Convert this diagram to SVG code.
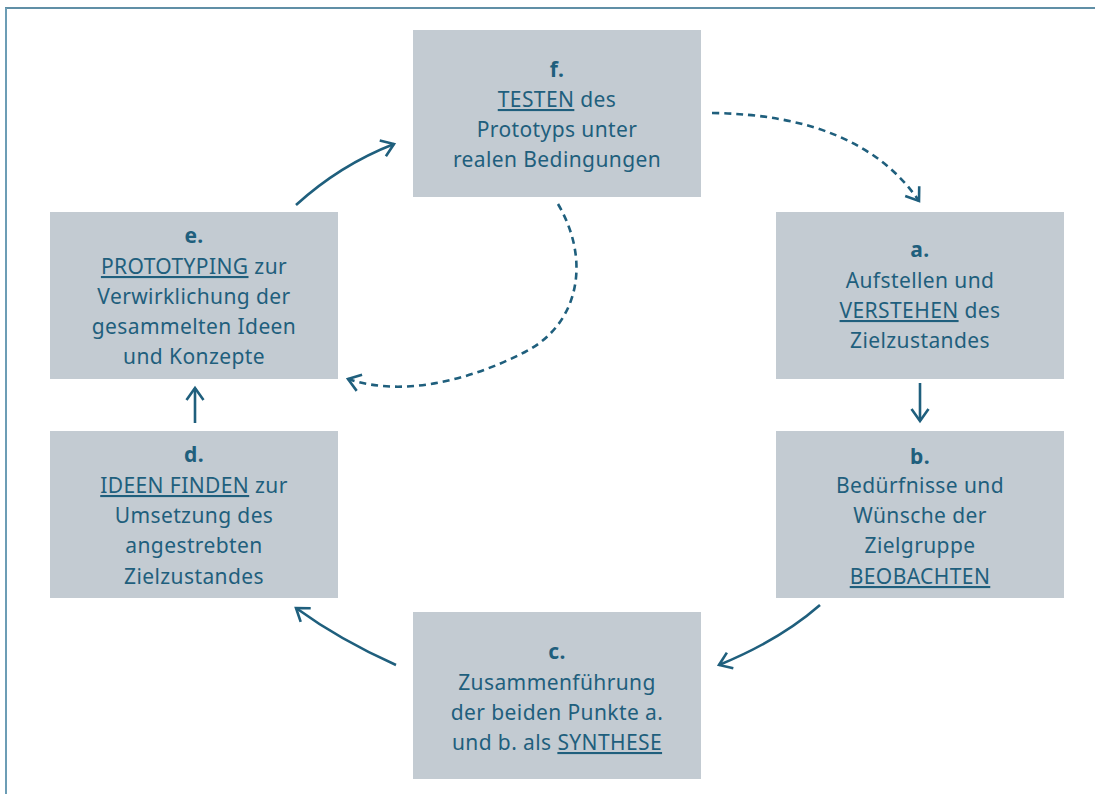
<svg xmlns="http://www.w3.org/2000/svg" width="1095" height="794" viewBox="0 0 1095 794">
  <defs>
    <style>
      .box { fill: #c3cbd2; }
      .t { font-family: "Noto Sans", "DejaVu Sans", sans-serif; font-size: 21px; letter-spacing: 0.4px; fill: #1f5f7d; text-anchor: middle; }
      .b { font-weight: bold; }
      .u { text-decoration: underline; }
      .c { fill: none; stroke: #1f5f7d; stroke-width: 2.6; stroke-linecap: butt; }
      .d { stroke-dasharray: 7 5; }
    </style>
    <marker id="ah" markerUnits="userSpaceOnUse" markerWidth="20" markerHeight="20" refX="13" refY="8.5" orient="auto" overflow="visible">
      <path d="M1,0 L13,8.5 L1,17" fill="none" stroke="#1f5f7d" stroke-width="2.6" stroke-dasharray="none"/>
    </marker>
  </defs>
  <rect width="1095" height="794" fill="#ffffff"/>
  <g id="frame">
    <line x1="5" y1="8" x2="1095" y2="8" stroke="#2b6a89" stroke-width="1.6"/>
    <line x1="6" y1="8" x2="6" y2="794" stroke="#6c9db5" stroke-width="2"/>
  </g>
  <g id="node-f">
    <rect class="box" x="413" y="30" width="288" height="167"/>
    <text class="t"><tspan class="b" x="557" y="77">f.</tspan><tspan x="557" y="107"><tspan class="u">TESTEN</tspan> des</tspan><tspan x="557" y="137">Prototyps unter</tspan><tspan x="557" y="167">realen Bedingungen</tspan></text>
  </g>
  <g id="node-a">
    <rect class="box" x="776" y="212" width="288" height="167"/>
    <text class="t"><tspan class="b" x="920" y="257">a.</tspan><tspan x="920" y="288">Aufstellen und</tspan><tspan x="920" y="318"><tspan class="u">VERSTEHEN</tspan> des</tspan><tspan x="920" y="348">Zielzustandes</tspan></text>
  </g>
  <g id="node-b">
    <rect class="box" x="776" y="431" width="288" height="167"/>
    <text class="t"><tspan class="b" x="920" y="464">b.</tspan><tspan x="920" y="493">Bedürfnisse und</tspan><tspan x="920" y="523">Wünsche der</tspan><tspan x="920" y="553">Zielgruppe</tspan><tspan class="u" x="920" y="584">BEOBACHTEN</tspan></text>
  </g>
  <g id="node-c">
    <rect class="box" x="413" y="612" width="288" height="167"/>
    <text class="t"><tspan class="b" x="557" y="659">c.</tspan><tspan x="557" y="690">Zusammenführung</tspan><tspan x="557" y="720">der beiden Punkte a.</tspan><tspan x="557" y="750">und b. als <tspan class="u">SYNTHESE</tspan></tspan></text>
  </g>
  <g id="node-d">
    <rect class="box" x="50" y="431" width="288" height="167"/>
    <text class="t"><tspan class="b" x="194" y="462">d.</tspan><tspan x="194" y="493"><tspan class="u">IDEEN FINDEN</tspan> zur</tspan><tspan x="194" y="523">Umsetzung des</tspan><tspan x="194" y="553">angestrebten</tspan><tspan x="194" y="584">Zielzustandes</tspan></text>
  </g>
  <g id="node-e">
    <rect class="box" x="50" y="212" width="288" height="167"/>
    <text class="t"><tspan class="b" x="194" y="243">e.</tspan><tspan x="194" y="274"><tspan class="u">PROTOTYPING</tspan> zur</tspan><tspan x="194" y="304">Verwirklichung der</tspan><tspan x="194" y="334">gesammelten Ideen</tspan><tspan x="194" y="364">und Konzepte</tspan></text>
  </g>
  <g id="connectors">
    <path class="c d" d="M712,113 Q860,115 919,201" marker-end="url(#ah)"/>
    <path class="c" d="M920,383 L920,421" marker-end="url(#ah)"/>
    <path class="c" d="M820,605 Q780,640 719,665" marker-end="url(#ah)"/>
    <path class="c" d="M396,665 Q340,640 296,608" marker-end="url(#ah)"/>
    <path class="c" d="M195,423 L195,388" marker-end="url(#ah)"/>
    <path class="c" d="M296,205 Q340,165 394,144" marker-end="url(#ah)"/>
    <path class="c d" d="M558,204 C592,262 578,325 525,352 S405,398 348,379" marker-end="url(#ah)"/>
  </g>
</svg>
